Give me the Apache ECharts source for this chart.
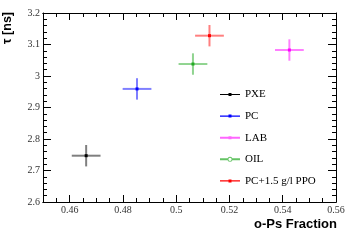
<!DOCTYPE html>
<html>
<head>
<meta charset="utf-8">
<script src="https://cdn.jsdelivr.net/npm/echarts@6/dist/echarts.min.js"></script>
<style>html,body{margin:0;padding:0;background:#fff}#c{width:355px;height:240px}</style>
</head>
<body>
<div id="c"></div>
<script>
const materials = ['PXE', 'PC', 'LAB', 'OIL', 'PC+1.5 g/l PPO'];
const oPsFraction = [0.4662, 0.4853, 0.5425, 0.5063, 0.5125];
const oPsFractionErr = [0.0054, 0.0054, 0.0054, 0.0054, 0.0054];
const tauNs = [2.747, 2.959, 3.0825, 3.038, 3.128];
const tauNsErr = [0.034, 0.034, 0.034, 0.034, 0.034];
const xTickLabels = [0.46, 0.48, 0.5, 0.52, 0.54, 0.56];
const yTickLabels = [2.6, 2.7, 2.8, 2.9, 3.0, 3.1, 3.2];

const colors = ['#000000', '#0000ff', '#ff00ff', '#22aa22', '#ff0000'];
const fmt = v => String(parseFloat((+v).toFixed(2)));
const serif = 'Liberation Serif';

const chart = echarts.init(document.getElementById('c'));

function makeRender(color) {
  return function (params, api) {
    const x = api.value(0), y = api.value(1), xe = api.value(2), ye = api.value(3);
    const c = api.coord([x, y]);
    const l = api.coord([x - xe, y]);
    const r = api.coord([x + xe, y]);
    const t = api.coord([x, y + ye]);
    const b = api.coord([x, y - ye]);
    const bar = { stroke: color, lineWidth: 2, opacity: 0.5 };
    return {
      type: 'group',
      children: [
        { type: 'line', shape: { x1: l[0], y1: l[1], x2: r[0], y2: r[1] }, style: bar },
        { type: 'line', shape: { x1: t[0], y1: t[1], x2: b[0], y2: b[1] }, style: bar },
        { type: 'rect', shape: { x: c[0] - 1.5, y: c[1] - 1.5, width: 3, height: 3 }, style: { fill: color } }
      ]
    };
  };
}

const lineIcon = 'path://M0,3.4H20V4.6H0Z M8.5,2.5H11.5V5.5H8.5Z';
const thickIcon = 'path://M0,3H20V5H0Z M8.5,2.5H11.5V5.5H8.5Z';
const ringIcon = 'path://M0,3H7.6V5H0Z M12.4,3H20V5H12.4Z M12.5,4A2.5,2.5 0 1,1 7.5,4A2.5,2.5 0 1,1 12.5,4Z M11.6,4A1.6,1.6 0 1,0 8.4,4A1.6,1.6 0 1,0 11.6,4Z';
const legendIcons = [lineIcon, lineIcon, thickIcon, ringIcon, lineIcon];
const legendColors = ['#000000', '#0000ff', 'rgba(255,0,255,0.6)', 'rgba(34,170,34,0.7)', '#ff0000'];

const axisLine = { show: true, onZero: false, lineStyle: { color: '#000', width: 1 } };
function xAx(pos, major) {
  const a = {
    type: 'value', position: pos, min: 0.45, max: 0.56,
    interval: major ? 0.01 : 0.005,
    axisLine: axisLine, splitLine: { show: false },
    axisTick: { show: true, inside: true, length: major ? 7 : 4, lineStyle: { color: '#000' } },
    axisLabel: { show: false }
  };
  if (major) {
    a.axisTick.customValues = xTickLabels;
    if (pos === 'bottom') {
      a.axisLabel = {
        show: true, customValues: xTickLabels, margin: 3,
        fontFamily: serif, fontSize: 10, color: '#333',
        formatter: v => (Math.round(v * 100) % 2 === 0 ? fmt(v) : '')
      };
    }
  }
  return a;
}
function yAx(pos) {
  return {
    type: 'value', position: pos, min: 2.6, max: 3.2, interval: 0.1,
    axisLine: axisLine, splitLine: { show: false },
    axisTick: { show: true, inside: true, length: 8, lineStyle: { color: '#000' } },
    minorTick: { show: true, splitNumber: 5, length: 4, lineStyle: { color: '#000' } },
    axisLabel: pos === 'left'
      ? { show: true, margin: 3, fontFamily: serif, fontSize: 10, color: '#333', formatter: fmt }
      : { show: false }
  };
}

chart.setOption({
  animation: false,
  grid: { left: 43, right: 19, top: 13, bottom: 38, containLabel: false },
  xAxis: [xAx('bottom', true), xAx('bottom', false), xAx('top', true), xAx('top', false)],
  yAxis: [yAx('left'), yAx('right')],
  legend: {
    orient: 'vertical', left: 215, top: 84,
    itemWidth: 20, itemHeight: 8, itemGap: 10.6,
    selectedMode: false,
    textStyle: { fontFamily: serif, fontSize: 11, color: '#000' },
    data: materials.map((m, i) => ({ name: m, icon: legendIcons[i], itemStyle: { color: legendColors[i] } }))
  },
  graphic: [
    {
      type: 'text', right: 18, top: 218,
      style: { text: 'o-Ps Fraction', fontFamily: 'Liberation Sans', fontWeight: 'bold', fontSize: 13, fill: '#000' }
    },
    {
      type: 'text', x: 8, y: 12, rotation: Math.PI / 2,
      style: { text: 'τ [ns]', fontFamily: 'Liberation Sans', fontWeight: 'bold', fontSize: 12.5, fill: '#000', align: 'right', verticalAlign: 'middle' }
    }
  ],
  series: materials.map((m, i) => ({
    name: m, type: 'custom', coordinateSystem: 'cartesian2d',
    xAxisIndex: 0, yAxisIndex: 0,
    itemStyle: { color: colors[i] },
    renderItem: makeRender(colors[i]),
    data: [[oPsFraction[i], tauNs[i], oPsFractionErr[i], tauNsErr[i]]]
  }))
});
</script>
</body>
</html>
